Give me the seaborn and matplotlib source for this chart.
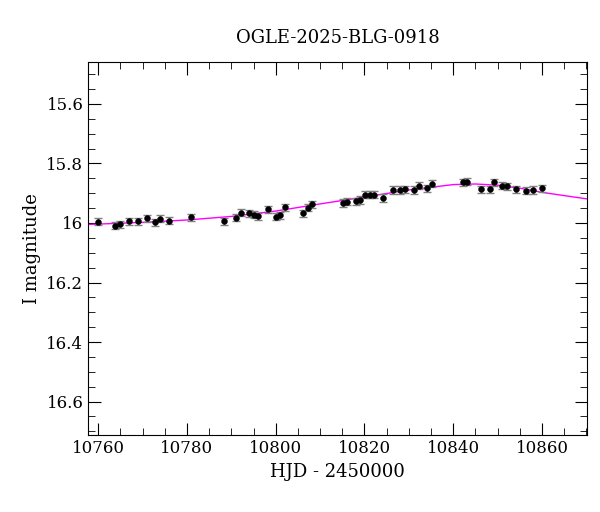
import matplotlib
matplotlib.use("Agg")
import matplotlib.pyplot as plt
import seaborn as sns
import numpy as np
import pandas as pd
from matplotlib.ticker import MultipleLocator

hjd = [10759.9,10763.8,10765.0,10767.0,10768.9,10770.9,10772.8,10774.0,10776.0,10781.0,
       10788.3,10791.1,10792.2,10793.9,10795.0,10796.0,10798.2,10800.0,10801.0,10802.1,
       10806.1,10807.2,10808.2,10815.1,10816.1,10818.1,10819.0,10820.1,10821.3,10822.2,
       10824.2,10826.4,10828.0,10829.1,10831.2,10832.3,10834.0,10835.2,10842.2,10843.2,
       10846.3,10848.3,10849.3,10851.0,10852.1,10854.2,10856.3,10858.0,10860.1]
mag = [15.996,16.009,16.004,15.995,15.994,15.984,15.998,15.986,15.992,15.981,
       15.994,15.983,15.965,15.968,15.972,15.977,15.954,15.979,15.974,15.947,
       15.968,15.949,15.937,15.933,15.929,15.927,15.923,15.905,15.905,15.905,
       15.916,15.889,15.889,15.887,15.889,15.875,15.884,15.868,15.864,15.861,
       15.887,15.887,15.864,15.875,15.877,15.887,15.891,15.889,15.884]
err = [0.012]*len(hjd)

model_t = [10757.75,10770,10780,10790,10800,10810,10820,10830,10840,10845,10850,10855,10860,10865,10870.1]
model_m = [16.005,15.998,15.99,15.978,15.96,15.936,15.913,15.889,15.871,15.869,15.873,15.883,15.897,15.908,15.919]

plt.rcParams["font.family"] = "DejaVu Serif"
fig, ax = plt.subplots(figsize=(6, 5.12), dpi=100)
fig.subplots_adjust(left=0.147, right=0.978, top=0.879, bottom=0.15)

df = pd.DataFrame({"t": model_t, "m": model_m})
sns.lineplot(data=df, x="t", y="m", color="magenta", lw=1, ax=ax)
ax.errorbar(hjd, mag, yerr=err, fmt="none", ecolor="gray", elinewidth=1, capsize=3, zorder=3)
sns.scatterplot(x=hjd, y=mag, color="black", s=18, edgecolor="black", ax=ax, zorder=4)

ax.set_xlim(10757.75, 10870.1)
ax.set_ylim(16.713, 15.459)
ax.xaxis.set_major_locator(MultipleLocator(20))
ax.xaxis.set_minor_locator(MultipleLocator(5))
ax.yaxis.set_major_locator(MultipleLocator(0.2))
ax.yaxis.set_minor_locator(MultipleLocator(0.05))
ax.set_yticks([15.6, 15.8, 16.0, 16.2, 16.4, 16.6])
ax.set_yticklabels(["15.6", "15.8", "16", "16.2", "16.4", "16.6"])
ax.tick_params(which="both", direction="in", top=True, right=True, labelsize=12)
ax.tick_params(which="major", length=9)
ax.tick_params(which="minor", length=5)
ax.set_xlabel("HJD - 2450000", fontsize=13)
ax.set_ylabel("I magnitude", fontsize=13)
ax.set_title("OGLE-2025-BLG-0918", fontsize=13, pad=14)
fig.savefig("out.png")
